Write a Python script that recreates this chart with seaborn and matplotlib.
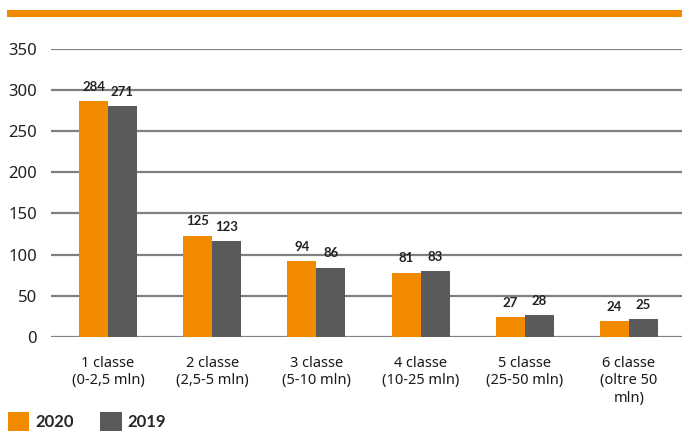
import pandas as pd
import matplotlib.pyplot as plt
import seaborn as sb

# Dati
categorie = ['1 classe\n(0-2,5 mln)', '2 classe\n(2,5-5 mln)', '3 classe\n(5-10 mln)',
             '4 classe\n(10-25 mln)', '5 classe\n(25-50 mln)', '6 classe\n(oltre 50\nmln)']
anni = ['2020', '2019']
# altezze delle barre
barre_2020 = [287, 123, 92, 78, 24, 19]
barre_2019 = [281, 116.5, 84, 80, 26.5, 21.5]
# etichette riportate sopra le barre
etichette_2020 = [284, 125, 94, 81, 27, 24]
etichette_2019 = [271, 123, 86, 83, 28, 25]

arancio = '#F28A00'
grigio = '#5A5A5A'

sb.set_style('white')
plt.rcParams['font.family'] = ['Noto Sans', 'DejaVu Sans']
grassetto = ['Lato', 'DejaVu Sans']

df = pd.DataFrame({
    'classe': categorie * 2,
    'anno': [anni[0]] * 6 + [anni[1]] * 6,
    'valore': barre_2020 + barre_2019,
})

fig = plt.figure(figsize=(6.82, 4.37), dpi=100)
ax = fig.add_axes([51 / 682, 100.3 / 437, 631 / 682, 287.5 / 437])

sb.barplot(data=df, x='classe', y='valore', hue='anno', hue_order=anni,
           palette=[arancio, grigio], width=0.556, gap=0, saturation=1,
           edgecolor='none', ax=ax)

ax.set_xlim(-0.547, 5.509)
ax.set_ylim(0, 350)
ax.set_yticks(range(0, 351, 50))
ax.yaxis.grid(True, color='#808080', linewidth=1.6)
ax.set_axisbelow(True)
sb.despine(ax=ax, left=True, bottom=True, top=True, right=True)
ax.set_xlabel('')
ax.set_ylabel('')
ax.tick_params(axis='y', length=0, pad=10, labelsize=12, labelcolor='#222222')
ax.tick_params(axis='x', length=0, pad=14, labelsize=10.5, labelcolor='#1a1a1a')

# etichette dei valori
for cont, testi in zip(ax.containers, [etichette_2020, etichette_2019]):
    ax.bar_label(cont, labels=[str(t) for t in testi], padding=6,
                 fontsize=9.5, fontweight='bold', family=grassetto, color='#222222')

# legenda in basso a sinistra
handles, labels = ax.get_legend_handles_labels()
ax.get_legend().remove()
fig.legend(handles, labels, loc='lower left', bbox_to_anchor=(-0.006, -0.012), ncol=2,
           frameon=False, borderaxespad=0.3, handlelength=1.3, handleheight=1.3,
           handletextpad=0.35, columnspacing=1.6,
           prop={'weight': 'bold', 'size': 12, 'family': grassetto})

# barra arancione in alto
fig.add_artist(plt.Rectangle((6.5 / 682, 1 - 16.5 / 437), 1, 7 / 437,
                             transform=fig.transFigure, color=arancio, lw=0))

fig.savefig('out.png', dpi=100)
